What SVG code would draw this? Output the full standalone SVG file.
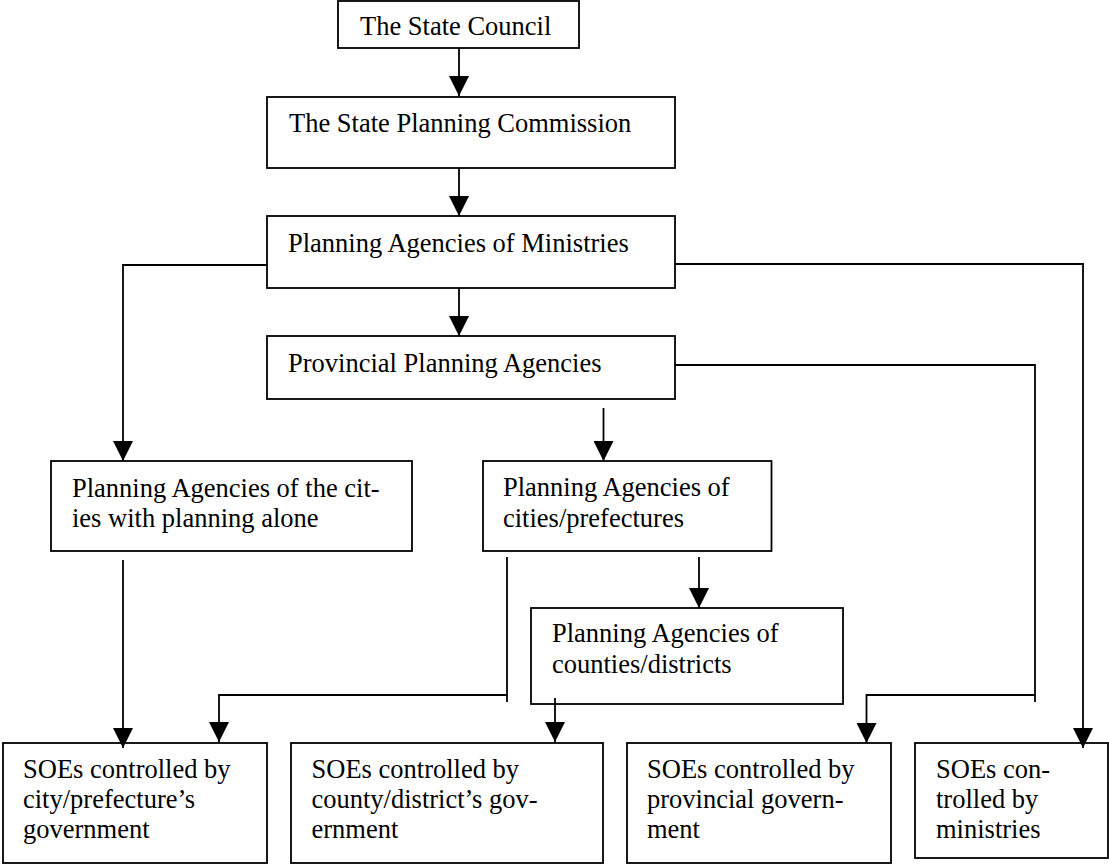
<svg xmlns="http://www.w3.org/2000/svg" width="1109" height="865" viewBox="0 0 1109 865">
<style>
.box{fill:#fff;stroke:#000;stroke-width:1.8}
.t{font-family:"Liberation Serif","Times New Roman",serif;font-size:26.5px;fill:#000}
.c{fill:none;stroke:#000;stroke-width:1.8}
</style>
<defs>
<marker id="ah" markerUnits="userSpaceOnUse" markerWidth="20" markerHeight="20" refX="20" refY="10" orient="auto" viewBox="0 0 20 20">
<path d="M0,0 L20,10 L0,20 Z" fill="#000"/>
</marker>
</defs>
<rect width="1109" height="865" fill="#fff"/>
<g id="n-state-council"><rect class="box" x="338" y="1" width="241" height="47"/><text class="t" x="360" y="35">The State Council</text></g>
<g id="n-spc"><rect class="box" x="267" y="97" width="408" height="71"/><text class="t" x="289" y="132">The State Planning Commission</text></g>
<g id="n-pam"><rect class="box" x="267" y="216" width="408" height="72"/><text class="t" x="288" y="252">Planning Agencies of Ministries</text></g>
<g id="n-ppa"><rect class="box" x="267" y="336" width="408" height="63"/><text class="t" x="288" y="372">Provincial Planning Agencies</text></g>
<g id="n-cities-alone"><rect class="box" x="51" y="461" width="361" height="90"/><text class="t" x="72" y="497">Planning Agencies of the cit-</text><text class="t" x="72" y="527">ies with planning alone</text></g>
<g id="n-cities-pref"><rect class="box" x="483" y="461" width="288.5" height="90"/><text class="t" x="503" y="496">Planning Agencies of</text><text class="t" x="503" y="527">cities/prefectures</text></g>
<g id="n-counties"><rect class="box" x="531" y="608" width="312" height="96"/><text class="t" x="552" y="642">Planning Agencies of</text><text class="t" x="552" y="673">counties/districts</text></g>
<g id="n-soe-city"><rect class="box" x="3" y="743" width="264" height="120"/><text class="t" x="23" y="778">SOEs controlled by</text><text class="t" x="23" y="807.5">city/prefecture’s</text><text class="t" x="23" y="837.5">government</text></g>
<g id="n-soe-county"><rect class="box" x="291" y="743" width="312" height="120"/><text class="t" x="311.5" y="778">SOEs controlled by</text><text class="t" x="311.5" y="807.5">county/district’s gov-</text><text class="t" x="311.5" y="837.5">ernment</text></g>
<g id="n-soe-prov"><rect class="box" x="627" y="743" width="264" height="120"/><text class="t" x="647" y="778">SOEs controlled by</text><text class="t" x="647" y="807.5">provincial govern-</text><text class="t" x="647" y="837.5">ment</text></g>
<g id="n-soe-min"><rect class="box" x="915" y="743" width="193" height="115"/><text class="t" x="936" y="778">SOEs con-</text><text class="t" x="936" y="807.5">trolled by</text><text class="t" x="936" y="837.5">ministries</text></g>
<g id="connectors">
<path class="c" d="M459,48 V96" marker-end="url(#ah)"/>
<path class="c" d="M459,168 V216" marker-end="url(#ah)"/>
<path class="c" d="M459,288 V336" marker-end="url(#ah)"/>
<path class="c" d="M267,265 H123 V461" marker-end="url(#ah)"/>
<path class="c" d="M675,264 H1083 V748" marker-end="url(#ah)"/>
<path class="c" d="M675,365 H1035 V702"/>
<path class="c" d="M1035,695 H866.5 V743" marker-end="url(#ah)"/>
<path class="c" d="M603.5,408 V461" marker-end="url(#ah)"/>
<path class="c" d="M123,560 V748" marker-end="url(#ah)"/>
<path class="c" d="M507,557 V702"/>
<path class="c" d="M507,695 H219 V742" marker-end="url(#ah)"/>
<path class="c" d="M699,557 V608" marker-end="url(#ah)"/>
<path class="c" d="M555,698 V742" marker-end="url(#ah)"/>
</g>
</svg>
